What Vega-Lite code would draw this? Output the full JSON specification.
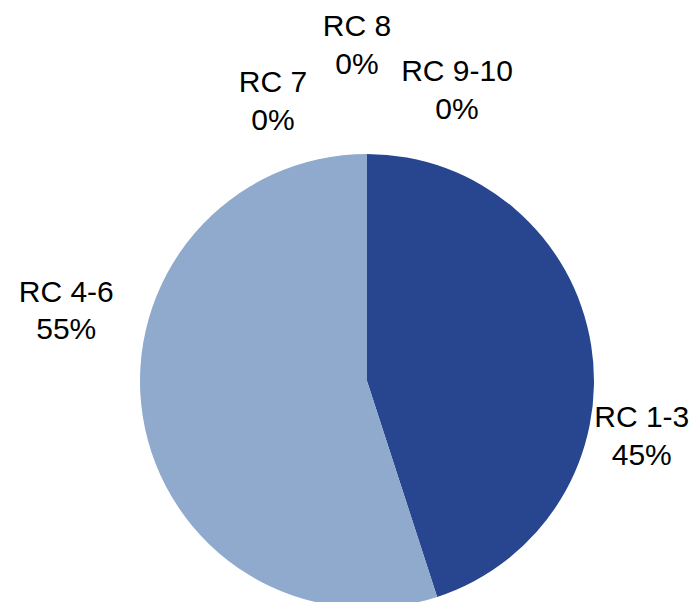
{
  "$schema": "https://vega.github.io/schema/vega-lite/v6.json",
  "width": 696,
  "height": 602,
  "autosize": {"type": "none"},
  "padding": 0,
  "background": "white",
  "config": {"view": {"stroke": null}},
  "data": {
    "values": [
      {"category": "RC 1-3", "share": 45, "label": ["RC 1-3", "45%"]},
      {"category": "RC 4-6", "share": 55, "label": ["RC 4-6", "55%"]},
      {"category": "RC 7", "share": 0, "label": ["RC 7", "0%"]},
      {"category": "RC 8", "share": 0, "label": ["RC 8", "0%"]},
      {"category": "RC 9-10", "share": 0, "label": ["RC 9-10", "0%"]}
    ]
  },
  "encoding": {
    "theta": {"field": "share", "type": "quantitative", "stack": true},
    "color": {
      "field": "category",
      "type": "nominal",
      "sort": null,
      "scale": {
        "domain": ["RC 1-3", "RC 4-6", "RC 7", "RC 8", "RC 9-10"],
        "range": ["#27468F", "#8FAACC", "#C0504D", "#9BBB59", "#8064A2"]
      },
      "legend": null
    },
    "order": {"field": "category", "sort": "ascending"}
  },
  "layer": [
    {
      "mark": {"type": "arc", "x": 367, "y": 381, "radius": 227}
    },
    {
      "mark": {
        "type": "text",
        "x": 367,
        "y": 381,
        "radius": 265,
        "font": "Liberation Sans",
        "fontSize": 30,
        "lineHeight": 37.5,
        "align": "center",
        "baseline": "alphabetic",
        "dx": {"expr": "datum.category === 'RC 1-3' ? 13 : datum.category === 'RC 4-6' ? -39 : datum.category === 'RC 7' ? -94 : datum.category === 'RC 8' ? -10 : 90"},
        "dy": {"expr": "datum.category === 'RC 1-3' ? 87.5 : datum.category === 'RC 4-6' ? -120.5 : datum.category === 'RC 7' ? -24 : datum.category === 'RC 8' ? -80 : -35"}
      },
      "encoding": {
        "text": {"field": "label", "type": "nominal"},
        "color": {"value": "#000000"}
      }
    }
  ]
}
